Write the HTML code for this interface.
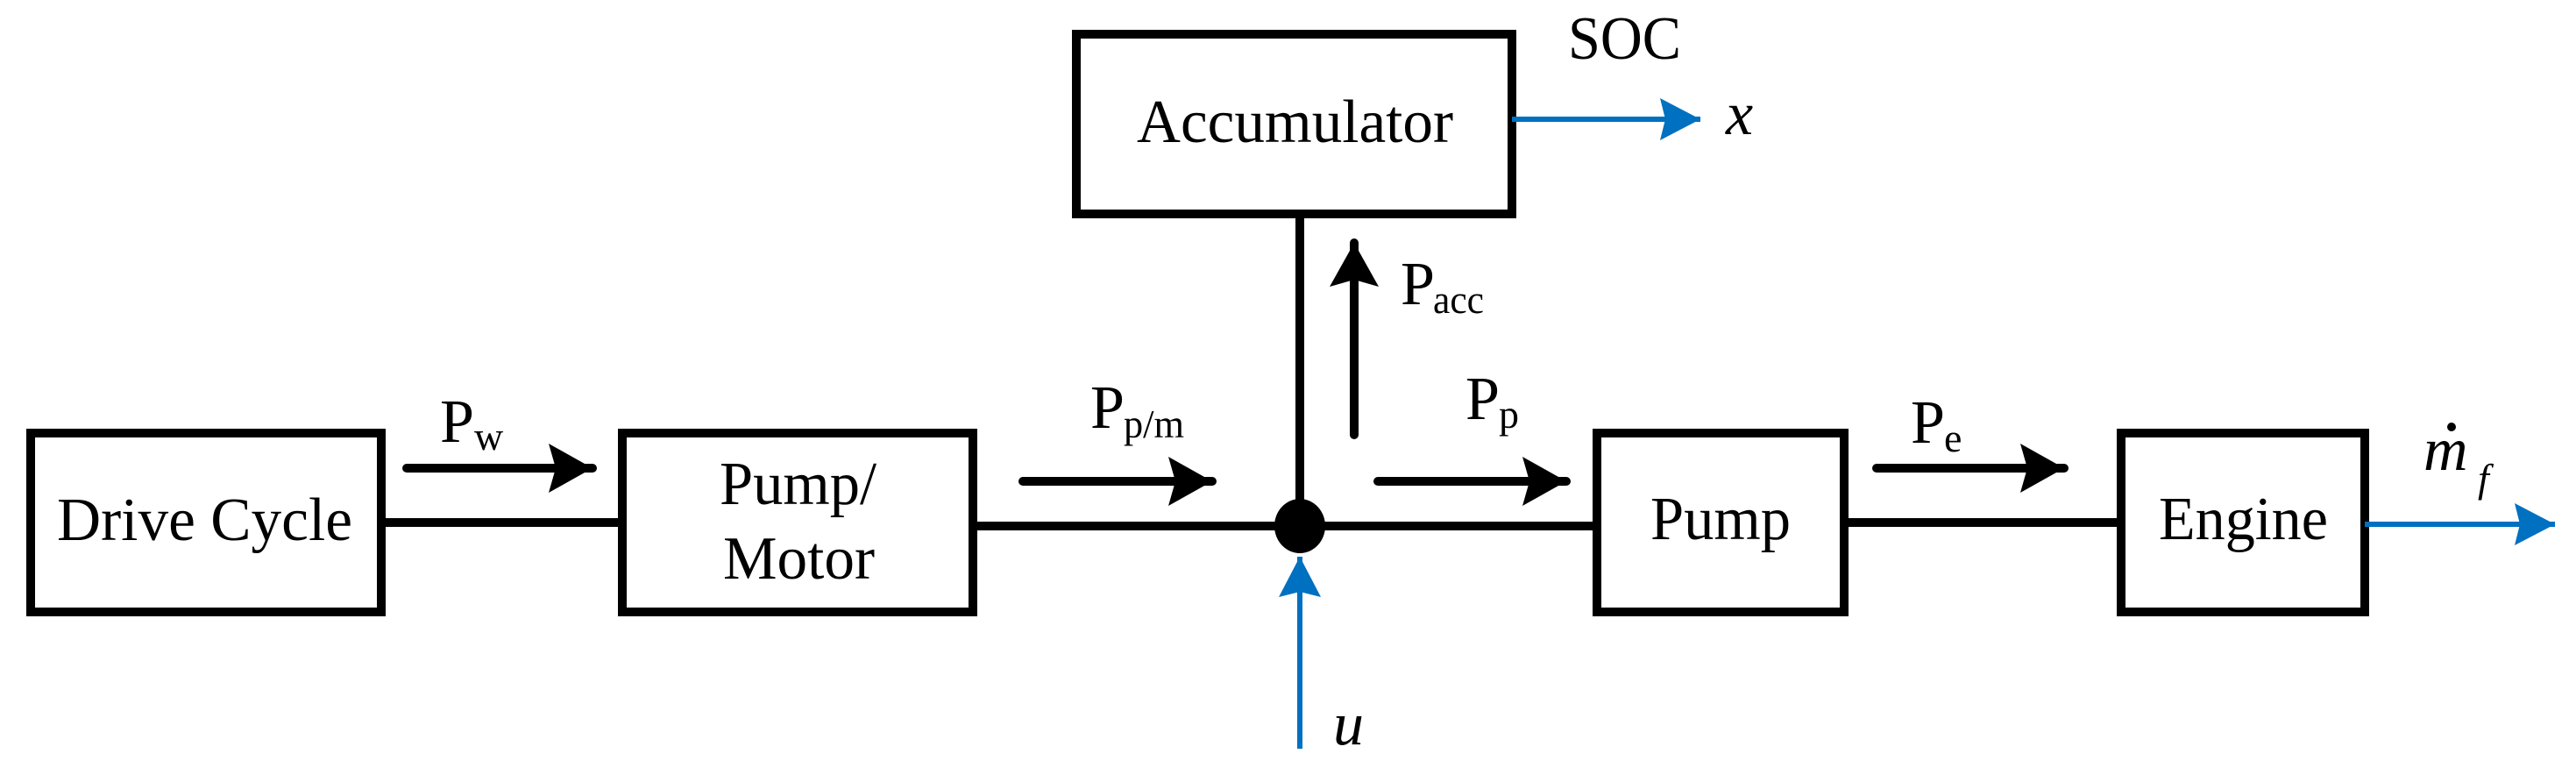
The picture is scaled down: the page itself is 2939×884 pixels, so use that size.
<!DOCTYPE html>
<html><head><style>html,body{margin:0;padding:0;background:#fff}svg{display:block}text{font-family:"Liberation Serif",serif;fill:#000}</style></head>
<body>
<svg width="2939" height="884" viewBox="0 0 2939 884" xmlns="http://www.w3.org/2000/svg">
<defs>
<marker id="bh" markerUnits="userSpaceOnUse" markerWidth="60" markerHeight="60" refX="50" refY="28" orient="auto"><path d="M0,0 L50,28 L0,56 L8,28 Z" fill="#000"/></marker>
<marker id="uh" markerUnits="userSpaceOnUse" markerWidth="60" markerHeight="60" refX="46" refY="24" orient="auto"><path d="M0,0 L46,24 L0,48 L6,24 Z" fill="#0070C0"/></marker>
</defs>
<g fill="none" stroke="#000" stroke-width="10">
<rect x="35" y="494" width="400" height="204"/>
<rect x="710" y="494" width="400" height="204"/>
<rect x="1228" y="39" width="497" height="205"/>
<rect x="1822" y="494" width="282" height="204"/>
<rect x="2420" y="494" width="278" height="204"/>
<line x1="435" y1="596" x2="710" y2="596"/>
<line x1="1110" y1="600" x2="1822" y2="600"/>
<line x1="2104" y1="596" x2="2420" y2="596"/>
<line x1="1483" y1="244" x2="1483" y2="600"/>
</g>
<ellipse cx="1483" cy="600" rx="29" ry="31" fill="#000"/>
<g stroke="#000" stroke-width="10" stroke-linecap="round" marker-end="url(#bh)">
<line x1="464" y1="534" x2="676" y2="534"/>
<line x1="1167" y1="549" x2="1383" y2="549"/>
<line x1="1545" y1="496" x2="1545" y2="277"/>
<line x1="1572" y1="549" x2="1787" y2="549"/>
<line x1="2141" y1="534" x2="2355" y2="534"/>
</g>
<g stroke="#0070C0" stroke-width="6" marker-end="url(#uh)">
<line x1="1483" y1="854" x2="1483" y2="635"/>
<line x1="1725" y1="136" x2="1940" y2="136"/>
<line x1="2698" y1="598" x2="2915" y2="598"/>
</g>
<g font-size="70">
<text x="65" y="616" textLength="337" lengthAdjust="spacingAndGlyphs">Drive Cycle</text>
<text x="821" y="575" textLength="179" lengthAdjust="spacingAndGlyphs">Pump/</text>
<text x="825" y="660" textLength="173" lengthAdjust="spacingAndGlyphs">Motor</text>
<text x="1297" y="162" textLength="361" lengthAdjust="spacingAndGlyphs">Accumulator</text>
<text x="1789" y="67" textLength="129" lengthAdjust="spacingAndGlyphs">SOC</text>
<text x="1883" y="615" textLength="160" lengthAdjust="spacingAndGlyphs">Pump</text>
<text x="2463" y="615" textLength="193" lengthAdjust="spacingAndGlyphs">Engine</text>
<text x="502" y="504">P</text><text x="541" y="513" font-size="46">w</text>
<text x="1244" y="488">P</text><text x="1282" y="499" font-size="46" textLength="69" lengthAdjust="spacingAndGlyphs">p/m</text>
<text x="1598" y="347">P</text><text x="1635" y="357" font-size="46" textLength="58" lengthAdjust="spacingAndGlyphs">acc</text>
<text x="1672" y="478">P</text><text x="1710" y="488" font-size="46">p</text>
<text x="2180" y="505">P</text><text x="2218" y="515" font-size="46">e</text>
<text x="1969" y="153" font-style="italic">x</text>
<text x="1521" y="849" font-style="italic">u</text>
<text x="2765" y="536" font-style="italic">m</text>
<circle cx="2797" cy="487" r="5" fill="#000"/>
<text x="2827" y="561" font-size="46" font-style="italic">f</text>
</g>
</svg>
</body></html>
